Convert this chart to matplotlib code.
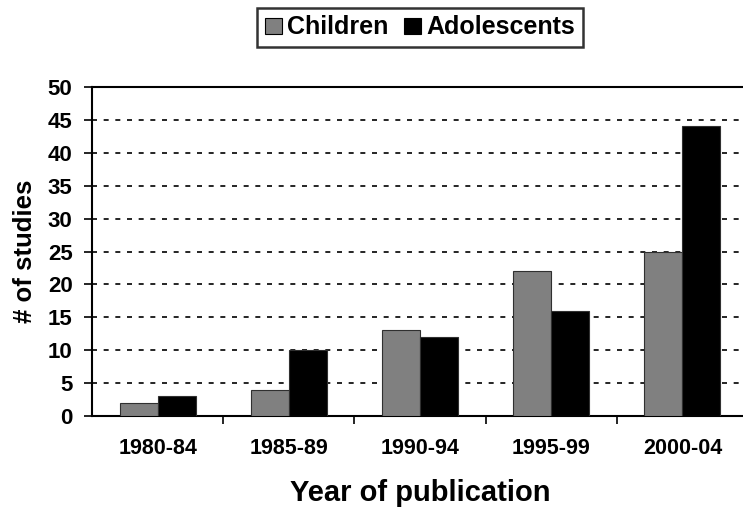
import numpy as np
import matplotlib.pyplot as plt
from matplotlib.patches import Patch

plt.rcParams['font.family'] = ['Liberation Sans', 'DejaVu Sans']
plt.rcParams['font.weight'] = 'bold'
plt.rcParams['axes.labelweight'] = 'bold'

# 数据
periods = ['1980-84', '1985-89', '1990-94', '1995-99', '2000-04']
children = [2, 4, 13, 22, 25]
adolescents = [3, 10, 12, 16, 44]

fig = plt.figure(figsize=(7.43, 5.09), dpi=100)
ax = fig.add_axes([92 / 743, 93 / 509, 656 / 743, 329 / 509])

x = np.arange(len(periods))
w = 0.29
ax.bar(x - w / 2, children, w, color='#808080', edgecolor='#303030', linewidth=0.8, zorder=3)
ax.bar(x + w / 2, adolescents, w, color='black', edgecolor='#303030', linewidth=0.8, zorder=3)

ax.set_xlim(-0.5, len(periods) - 0.5)
ax.set_ylim(0, 50)
ax.set_yticks(range(0, 51, 5))
ax.tick_params(axis='y', labelsize=16, length=6, width=1.2, direction='out', pad=8)
ax.set_xticks(x)
ax.set_xticklabels(periods, fontsize=15.5)
ax.tick_params(axis='x', length=0, pad=16)
ax.set_xticks(np.arange(0.5, len(periods) - 0.5), minor=True)
ax.tick_params(axis='x', which='minor', length=6, width=1.2, direction='out')

# 虚线网格
for y in range(5, 50, 5):
    ax.axhline(y, color='black', linestyle=(0, (3, 4)), linewidth=1.2, zorder=1)

ax.spines['right'].set_visible(False)
ax.spines['top'].set_linewidth(1.5)
ax.spines['left'].set_linewidth(1.5)
ax.spines['bottom'].set_linewidth(1.5)

ax.set_ylabel('# of studies', fontsize=18.5, labelpad=8)
ax.set_xlabel('Year of publication', fontsize=21, labelpad=14)

handles = [Patch(facecolor='#808080', edgecolor='black', linewidth=0.8),
           Patch(facecolor='black', edgecolor='black', linewidth=0.8)]
leg = fig.legend(handles, ['Children', 'Adolescents'], loc='center',
                 bbox_to_anchor=(420 / 743, 1 - 27.5 / 509), ncol=2, fontsize=18,
                 frameon=True, fancybox=False, edgecolor='black',
                 handlelength=0.7, handleheight=0.62, handletextpad=0.2,
                 columnspacing=0.6, borderpad=0.3, borderaxespad=0)
leg.get_frame().set_linewidth(1.8)

fig.savefig('out.png', dpi=100)
